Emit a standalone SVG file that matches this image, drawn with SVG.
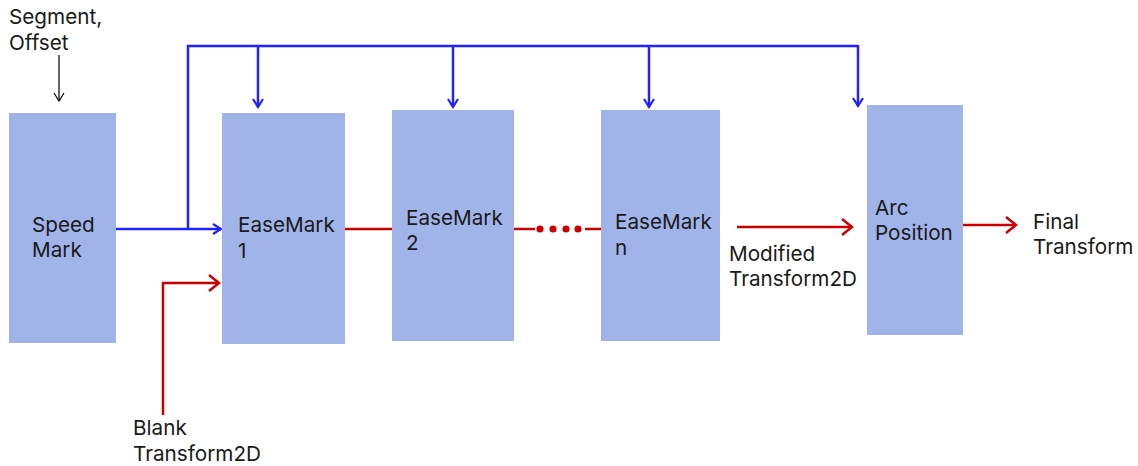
<svg xmlns="http://www.w3.org/2000/svg" width="1138" height="466" viewBox="0 0 1138 466">
  <defs>
    <style>
      .box { fill: #a0b4e9; }
      .lbl { font-family: Inter, "Noto Sans", "Liberation Sans", sans-serif; font-size: 20.7px; fill: #1a1a1a; }
      .blue { stroke: #2222ff; stroke-width: 2.5; fill: none; }
      .red { stroke: #cc0000; stroke-width: 2.5; fill: none; }
      .black { stroke: #111111; stroke-width: 1.3; fill: none; }
    </style>
    <marker id="arrBlue" viewBox="0 0 12 12" refX="10" refY="6" markerWidth="12" markerHeight="12" markerUnits="userSpaceOnUse" orient="auto">
      <path d="M2,1 L10,6 L2,11" fill="none" stroke="#2222ff" stroke-width="2.2"/>
    </marker>
    <marker id="arrRed" viewBox="0 0 14 18" refX="12" refY="9" markerWidth="14" markerHeight="18" markerUnits="userSpaceOnUse" orient="auto">
      <path d="M2,1 L12,9 L2,17" fill="none" stroke="#cc0000" stroke-width="2.5"/>
    </marker>
    <marker id="arrBlack" viewBox="0 0 12 12" refX="10" refY="6" markerWidth="12" markerHeight="12" markerUnits="userSpaceOnUse" orient="auto">
      <path d="M2,1 L10,6 L2,11" fill="none" stroke="#111111" stroke-width="1.3"/>
    </marker>
  </defs>

  <rect width="1138" height="466" fill="#ffffff"/>

  <!-- connectors -->
  <g id="connectors">
    <!-- segment/offset input -->
    <line class="black" x1="59" y1="55" x2="59" y2="101" marker-end="url(#arrBlack)"/>
    <!-- speed mark output broadcast bus -->
    <polyline class="blue" points="116,229 188,229"/>
    <line class="blue" x1="188" y1="229" x2="221" y2="229" marker-end="url(#arrBlue)"/>
    <polyline class="blue" points="188,229 188,46 858,46"/>
    <line class="blue" x1="258" y1="46" x2="258" y2="107" marker-end="url(#arrBlue)"/>
    <line class="blue" x1="453" y1="46" x2="453" y2="107" marker-end="url(#arrBlue)"/>
    <line class="blue" x1="649" y1="46" x2="649" y2="107" marker-end="url(#arrBlue)"/>
    <line class="blue" x1="858" y1="45" x2="858" y2="106" marker-end="url(#arrBlue)"/>
    <!-- transform chain -->
    <polyline class="red" points="163,415 163,283 219,283" marker-end="url(#arrRed)"/>
    <line class="red" x1="345" y1="229" x2="392" y2="229"/>
    <line class="red" x1="514" y1="229" x2="535" y2="229"/>
    <g fill="#cc0000">
      <circle cx="540" cy="229" r="3.6"/>
      <circle cx="553" cy="229" r="3.6"/>
      <circle cx="566" cy="229" r="3.6"/>
      <circle cx="578" cy="229" r="3.6"/>
    </g>
    <line class="red" x1="585" y1="229" x2="601" y2="229"/>
    <line class="red" x1="737" y1="227" x2="852" y2="227" marker-end="url(#arrRed)"/>
    <line class="red" x1="963" y1="225" x2="1016" y2="225" marker-end="url(#arrRed)"/>
  </g>

  <!-- free labels -->
  <g id="input-label">
    <text class="lbl" x="9" y="24">Segment,</text>
    <text class="lbl" x="9" y="50">Offset</text>
  </g>
  <g id="blank-label">
    <text class="lbl" x="133" y="435">Blank</text>
    <text class="lbl" x="133" y="461">Transform2D</text>
  </g>
  <g id="modified-label">
    <text class="lbl" x="729" y="261">Modified</text>
    <text class="lbl" x="729" y="286">Transform2D</text>
  </g>
  <g id="final-label">
    <text class="lbl" x="1033" y="229">Final</text>
    <text class="lbl" x="1033" y="254">Transform</text>
  </g>

  <!-- nodes -->
  <g id="speed-mark">
    <rect class="box" x="9" y="113" width="107" height="230"/>
    <text class="lbl" x="32" y="232">Speed</text>
    <text class="lbl" x="32" y="257">Mark</text>
  </g>
  <g id="easemark-1">
    <rect class="box" x="222" y="113" width="123" height="231"/>
    <text class="lbl" x="238" y="232">EaseMark</text>
    <text class="lbl" x="238" y="258">1</text>
  </g>
  <g id="easemark-2">
    <rect class="box" x="392" y="110" width="122" height="231"/>
    <text class="lbl" x="406" y="225">EaseMark</text>
    <text class="lbl" x="406" y="250">2</text>
  </g>
  <g id="easemark-n">
    <rect class="box" x="601" y="110" width="119" height="231"/>
    <text class="lbl" x="615" y="229">EaseMark</text>
    <text class="lbl" x="615" y="255">n</text>
  </g>
  <g id="arc-position">
    <rect class="box" x="867" y="105" width="96" height="230"/>
    <text class="lbl" x="875" y="215">Arc</text>
    <text class="lbl" x="875" y="240">Position</text>
  </g>
</svg>
